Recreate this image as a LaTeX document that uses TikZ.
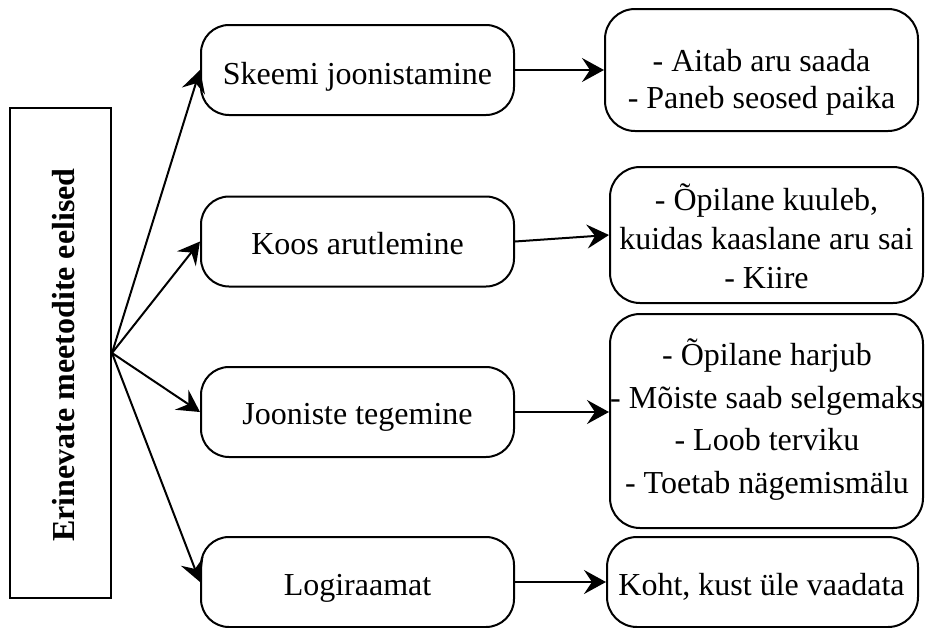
\documentclass[tikz,border=0pt]{standalone}
\usepackage{fontspec}
\setmainfont{Liberation Serif}
\usetikzlibrary{arrows.meta}
% fixed first-line height, so a block can be hung from its first baseline
\newcommand\firstline{\rule{0pt}{30pt}}
\begin{document}
\begin{tikzpicture}[x=1pt,y=-1pt,
  frame/.style={draw, line width=2pt, inner sep=0pt},
  rootbox/.style={frame, minimum width=101pt, minimum height=490pt},
  methodbox/.style={frame, rounded corners=28pt, minimum width=313pt, minimum height=90pt},
  notebox/.style={frame, rounded corners=30pt},
  lbl/.style={inner sep=0pt, align=center, anchor=north, font=\fontsize{32}{38}\selectfont},
  link/.style={line width=2pt, -{Stealth[length=22pt,width=24pt,inset=8pt]}}
]
\useasboundingbox (0,0) rectangle (927,627);

% root box with its rotated title
\node[rootbox] (root) at (60.5,353) {};
\node[inner sep=0pt, rotate=90, font=\fontsize{32}{38}\selectfont\bfseries] (roottext) at (63.5,355) {Erinevate meetodite eelised};

% method boxes
\node[methodbox] (m1) at (357.5,70) {};
\node[methodbox] (m2) at (357.5,241.5) {};
\node[methodbox] (m3) at (357.5,412) {};
\node[methodbox] (m4) at (357.5,582) {};
\node[lbl] (m1t) at (357.5,84-30) {\firstline Skeemi joonistamine};
\node[lbl] (m2t) at (357.5,254-30) {\firstline Koos arutlemine};
\node[lbl] (m3t) at (357.5,424-30) {\firstline Jooniste tegemine};
\node[lbl] (m4t) at (357.5,595-30) {\firstline Logiraamat};

% benefit boxes
\node[notebox, minimum width=313pt, minimum height=122pt] (n1) at (761.5,70) {};
\node[notebox, minimum width=313pt, minimum height=136pt] (n2) at (766.5,235) {};
\node[notebox, minimum width=313pt, minimum height=214pt] (n3) at (766.5,421) {};
\node[notebox, minimum width=311pt, minimum height=90pt] (n4) at (762.5,582) {};
\node[lbl, font=\fontsize{32}{37}\selectfont] (n1t) at (761.5,71-30)
  {\firstline - Aitab aru saada\\- Paneb seosed paika};
\node[lbl, font=\fontsize{32}{39}\selectfont] (n2t) at (766.5,210-30)
  {\firstline - Õpilane kuuleb,\\kuidas kaaslane aru sai\\- Kiire};
\node[lbl, font=\fontsize{32}{42.5}\selectfont] (n3t) at (767,365.5-30)
  {\firstline - Õpilane harjub\\- Mõiste saab selgemaks\\- Loob terviku\\- Toetab nägemismälu};
\node[lbl] (n4t) at (761.5,595-30) {\firstline Koht, kust üle vaadata};

% connectors
\coordinate (src) at (root.east);
\foreach \m in {m1,m2,m3,m4} \draw[link] (src) -- (\m.west);
\draw[link] (m1.east) -- (n1.west);
\draw[link] (m2.east) -- (n2.west);
\draw[link] (m3.east) -- (m3.east -| n3.west);
\draw[link] (m4.east) -- (n4.west);
\end{tikzpicture}
\end{document}
